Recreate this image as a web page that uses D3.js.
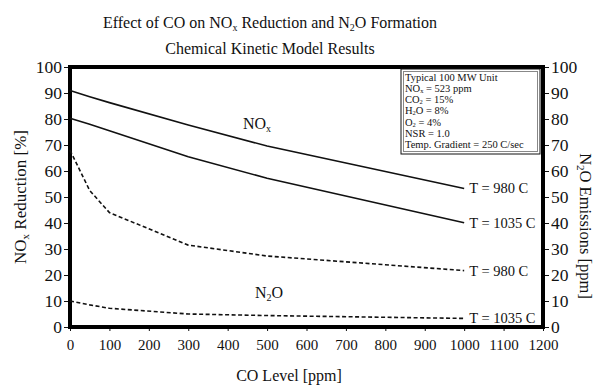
<!DOCTYPE html>
<html>
<head>
<meta charset="utf-8">
<script src="https://cdn.jsdelivr.net/npm/d3@7"></script>
<style>
  body { margin: 0; background: #fff; }
  svg text { font-family: "Liberation Serif", "Times New Roman", serif; fill: #111; }
</style>
</head>
<body>
<svg id="chart" width="597" height="386"></svg>
<script>
// ── DATA ──────────────────────────────────────────────────────
const coLevels   = [0, 50, 100, 300, 500, 1000];
const noxT980    = [91, 88.6, 86.3, 77.7, 69.6, 53.3];
const noxT1035   = [80.3, 78, 75.5, 65.5, 57.2, 40.1];
const n2oT980    = [68, 52.5, 44, 31.5, 27.3, 21.7];
const n2oT1035   = [10, 8.5, 7.2, 5, 4.4, 3.3];
const xTicks     = d3.range(0, 1201, 100);
const yTicks     = d3.range(0, 101, 10);
const curveLabels = ["T = 980 C", "T = 1035 C", "T = 980 C", "T = 1035 C"];

// ── LAYOUT ────────────────────────────────────────────────────
const svg = d3.select("#chart");
const plotL = 70, plotR = 543, plotT = 67, plotB = 327;

const xScale = d3.scaleLinear().domain([0, 1200]).range([plotL, plotR]);
const yLeft  = d3.scaleLinear().domain([0, 100]).range([plotB, plotT]);
const yRight = d3.scaleLinear().domain([0, 100]).range([plotB, plotT]);

// ── TITLES ────────────────────────────────────────────────────
const t1 = svg.append("text")
  .attr("x", 270).attr("y", 28)
  .attr("text-anchor", "middle")
  .style("font-size", "16px");
t1.append("tspan").text("Effect of CO on NO");
t1.append("tspan").attr("baseline-shift", "-30%").style("font-size", "10px").text("x");
t1.append("tspan").text(" Reduction and N");
t1.append("tspan").attr("baseline-shift", "-30%").style("font-size", "10px").text("2");
t1.append("tspan").text("O Formation");

svg.append("text")
  .attr("x", 270).attr("y", 54)
  .attr("text-anchor", "middle")
  .style("font-size", "16px")
  .text("Chemical Kinetic Model Results");

// ── AXES ──────────────────────────────────────────────────────
const xAxis = svg.append("g")
  .attr("transform", `translate(0, ${plotB})`)
  .call(d3.axisBottom(xScale).tickValues(xTicks).tickFormat(d3.format("d"))
    .tickSize(4).tickPadding(8));

const yAxisL = svg.append("g")
  .attr("transform", `translate(${plotL}, 0)`)
  .call(d3.axisLeft(yLeft).tickValues(yTicks).tickSize(6).tickPadding(2));

const yAxisR = svg.append("g")
  .attr("transform", `translate(${plotR}, 0)`)
  .call(d3.axisRight(yRight).tickValues(yTicks).tickSize(6).tickPadding(2));

[xAxis, yAxisL, yAxisR].forEach(g => {
  g.select(".domain").remove();
  g.selectAll(".tick line").attr("stroke", "#111").attr("stroke-width", 1);
  g.selectAll(".tick text").attr("fill", "#111")
    .style("font-family", "'Liberation Serif', serif");
});
xAxis.selectAll(".tick text").style("font-size", "15px");
yAxisL.selectAll(".tick text").style("font-size", "17.5px").attr("dy", "0.32em");
yAxisR.selectAll(".tick text").style("font-size", "17.5px").attr("dy", "0.32em");

// frame
svg.append("rect")
  .attr("x", plotL).attr("y", plotT)
  .attr("width", plotR - plotL).attr("height", plotB - plotT)
  .attr("fill", "none").attr("stroke", "#000").attr("stroke-width", 4);

// axis titles
svg.append("text")
  .attr("x", 289).attr("y", 381)
  .attr("text-anchor", "middle")
  .style("font-size", "16px")
  .text("CO Level [ppm]");

const yl = svg.append("text")
  .attr("transform", `translate(26, 197) rotate(-90)`)
  .attr("text-anchor", "middle")
  .style("font-size", "17px");
yl.append("tspan").text("NO");
yl.append("tspan").attr("baseline-shift", "-30%").style("font-size", "11px").text("x");
yl.append("tspan").text(" Reduction [%]");

const yr = svg.append("text")
  .attr("transform", `translate(580, 226) rotate(90)`)
  .attr("text-anchor", "middle")
  .style("font-size", "16.5px");
yr.append("tspan").text("N");
yr.append("tspan").attr("baseline-shift", "-30%").style("font-size", "11px").text("2");
yr.append("tspan").text("O Emissions [ppm]");

// ── CURVES ────────────────────────────────────────────────────
const series = [
  { values: noxT980,  scale: yLeft,  dash: null },
  { values: noxT1035, scale: yLeft,  dash: null },
  { values: n2oT980,  scale: yRight, dash: "4,2.5" },
  { values: n2oT1035, scale: yRight, dash: "4,2.5" }
];

series.forEach((s, i) => {
  const pts = coLevels.map((c, j) => [c, s.values[j]]);
  const line = d3.line()
    .x(d => xScale(d[0]))
    .y(d => s.scale(d[1]));

  svg.append("path")
    .datum(pts)
    .attr("d", line)
    .attr("fill", "none")
    .attr("stroke", "#111")
    .attr("stroke-width", 1.6)
    .attr("stroke-dasharray", s.dash);

  const last = pts[pts.length - 1];
  svg.append("text")
    .attr("x", xScale(last[0]) + 5)
    .attr("y", s.scale(last[1]) + 5)
    .style("font-size", "14.5px")
    .text(curveLabels[i]);
});

// group labels
const noxLab = svg.append("text")
  .attr("x", 243).attr("y", 129)
  .style("font-size", "16px");
noxLab.append("tspan").text("NO");
noxLab.append("tspan").attr("baseline-shift", "-30%").style("font-size", "10px").text("x");

const n2oLab = svg.append("text")
  .attr("x", 255).attr("y", 298)
  .style("font-size", "16px");
n2oLab.append("tspan").text("N");
n2oLab.append("tspan").attr("baseline-shift", "-30%").style("font-size", "10px").text("2");
n2oLab.append("tspan").text("O");

// ── INFO BOX ──────────────────────────────────────────────────
svg.append("rect")
  .attr("x", 401).attr("y", 69).attr("width", 139).attr("height", 85)
  .attr("fill", "#fff").attr("stroke", "#111").attr("stroke-width", 1);
svg.append("rect")
  .attr("x", 403.5).attr("y", 71.5).attr("width", 134).attr("height", 80)
  .attr("fill", "none").attr("stroke", "#888").attr("stroke-width", 1);

const infoLines = [
  [["Typical 100 MW Unit", 0]],
  [["NO", 0], ["x", 1], [" = 523 ppm", 0]],
  [["CO", 0], ["2", 1], [" = 15%", 0]],
  [["H", 0], ["2", 1], ["O = 8%", 0]],
  [["O", 0], ["2", 1], [" = 4%", 0]],
  [["NSR = 1.0", 0]],
  [["Temp. Gradient = 250 C/sec", 0]]
];

infoLines.forEach((parts, i) => {
  const t = svg.append("text")
    .attr("x", 405).attr("y", 80.5 + i * 11.3)
    .style("font-size", "10.5px");
  parts.forEach(p => {
    const sp = t.append("tspan").text(p[0]);
    if (p[1]) sp.attr("baseline-shift", "-20%").style("font-size", "6.5px");
  });
});
</script>
</body>
</html>
